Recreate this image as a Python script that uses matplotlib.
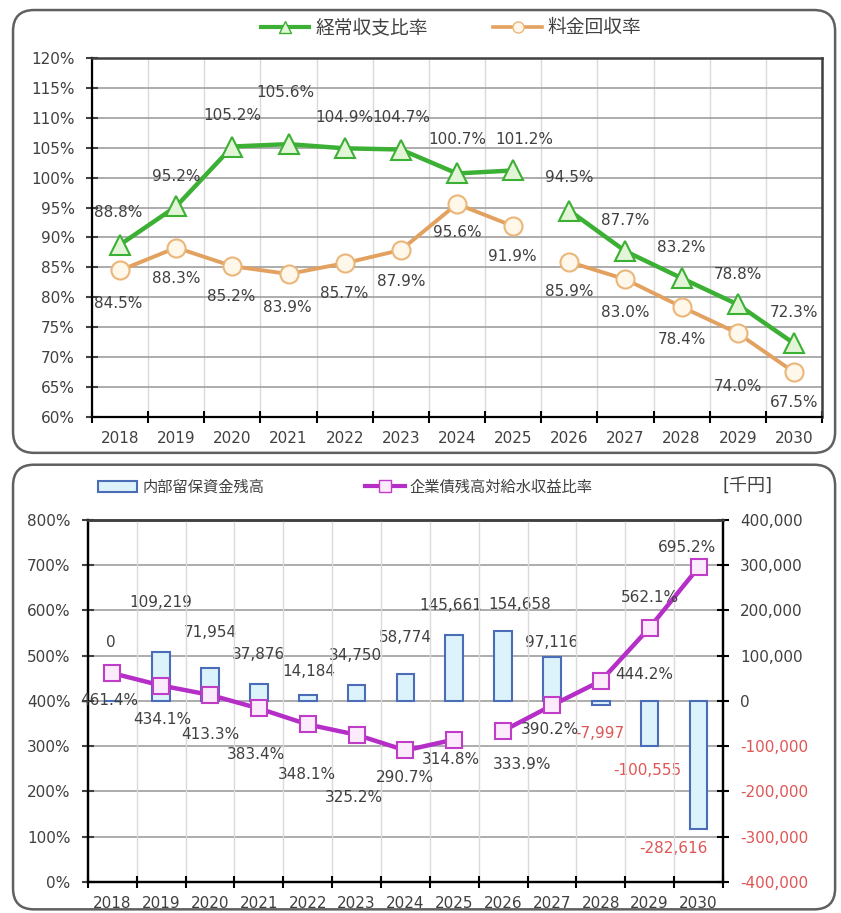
import numpy as np
import matplotlib
matplotlib.use("Agg")
import matplotlib.pyplot as plt
from matplotlib.patches import FancyBboxPatch, Patch
from matplotlib.lines import Line2D

plt.rcParams['font.family'] = ['DejaVu Sans', 'Noto Sans CJK JP']
plt.rcParams['font.size'] = 11

# data
years = ['2018', '2019', '2020', '2021', '2022', '2023', '2024',
         '2025', '2026', '2027', '2028', '2029', '2030']
keijo = [88.8, 95.2, 105.2, 105.6, 104.9, 104.7, 100.7, 101.2, 94.5, 87.7, 83.2, 78.8, 72.3]
ryokin = [84.5, 88.3, 85.2, 83.9, 85.7, 87.9, 95.6, 91.9, 85.9, 83.0, 78.4, 74.0, 67.5]
ryuho = [0, 109219, 71954, 37876, 14184, 34750, 58774, 145661, 154658, 97116,
         -7997, -100555, -282616]
kigyosai = [461.4, 434.1, 413.3, 383.4, 348.1, 325.2, 290.7, 314.8, 333.9, 390.2,
            444.2, 562.1, 695.2]

# label offsets in pixels (dx, dy downward)
keijo_off = [(-2, -32), (0, -30), (0, -31), (-3, -52), (0, -31), (0, -32), (0, -34),
             (11, -31), (0, -33), (0, -31), (0, -31), (0, -30), (0, -31)]
ryokin_off = [(-2, 33), (0, 31), (-1, 30), (-1, 34), (-1, 30), (0, 31), (0, 29),
              (-1, 30), (0, 29), (0, 33), (0, 33), (0, 53), (0, 30)]
kigyosai_off = [(-3, 27), (1, 34), (0, 40), (-3, 46), (-1, 50), (-3, 63), (-1, 27),
                (-3, 20), (19, 34), (-2, 24), (43, -6), (0, -30), (-12, -20)]
ryuho_off = [(-2, -58), (0, -49), (0, -36), (0, -29), (1, -23), (-1, -30), (0, -37),
             (-4, -30), (17, -26), (0, -15), (-1, 29), (-2, 24), (-25, 20)]

txt = '#404040'
red = '#E05555'
green, green_fill = '#3CB034', '#E2F5D6'
orange, orange_edge, orange_fill = '#E3A160', '#EBB679', '#FFF7EA'
purple, purple_edge, purple_fill = '#B52EC7', '#C03DC8', '#FCEBFC'
bar_fill, bar_edge = '#DDF3FC', '#4B6CB7'

fig = plt.figure(figsize=(8.41, 9.13), dpi=100)

# rounded frames
for y0, h in [(0.504, 0.485), (0.004, 0.487)]:
    fig.add_artist(FancyBboxPatch((0.0155, y0), 0.9775, h,
                                  boxstyle="round,pad=0,rounding_size=0.025",
                                  transform=fig.transFigure, fc='none', ec='#606060',
                                  lw=1.8, mutation_aspect=841 / 913))

x = np.arange(len(years))

# ---- top chart
ax1 = fig.add_axes([0.1094, 0.5433, 0.868, 0.3932])
for sl in [slice(0, 8), slice(8, 13)]:
    ax1.plot(x[sl], keijo[sl], color=green, lw=3.2, marker='^', ms=14,
             mfc=green_fill, mec=green, mew=1.5, zorder=4, clip_on=False)
    ax1.plot(x[sl], ryokin[sl], color=orange, lw=2.8, marker='o', ms=13,
             mfc=orange_fill, mec=orange_edge, mew=1.5, zorder=3, clip_on=False)
for i in range(len(years)):
    dx, dy = keijo_off[i]
    ax1.annotate(f"{keijo[i]:.1f}%", (x[i], keijo[i]), xytext=(dx, -dy),
                 textcoords='offset pixels', ha='center', va='center', color=txt, zorder=6)
    dx, dy = ryokin_off[i]
    ax1.annotate(f"{ryokin[i]:.1f}%", (x[i], ryokin[i]), xytext=(dx, -dy),
                 textcoords='offset pixels', ha='center', va='center', color=txt, zorder=6)

ax1.set_xlim(-0.5, 12.5)
ax1.set_ylim(60, 120)
ax1.set_xticks(x)
ax1.set_xticklabels(years)
ax1.set_xticks(np.arange(-0.5, 13, 1), minor=True)
ax1.tick_params(axis='x', which='major', length=0, pad=10, colors=txt)
ax1.tick_params(axis='x', which='minor', length=9, direction='inout', width=1.5)
yt = list(range(60, 121, 5))
ax1.set_yticks(yt)
ax1.set_yticklabels([f"{v}%" for v in yt])
ax1.tick_params(axis='y', length=9, direction='inout', width=1.5, pad=8, colors=txt)
ax1.grid(axis='y', which='major', color='#A6A6A6', lw=1.3)
ax1.grid(axis='x', which='minor', color='#DADADA', lw=1)
ax1.set_axisbelow(True)
for s in ['left', 'bottom']:
    ax1.spines[s].set_color('black')
    ax1.spines[s].set_linewidth(1.6)
for s in ['top', 'right']:
    ax1.spines[s].set_color('#404040')
    ax1.spines[s].set_linewidth(1.8)

h1 = [Line2D([], [], color=green, lw=3, marker='^', ms=8, mfc=green_fill, mec=green),
      Line2D([], [], color=orange, lw=2.6, marker='o', ms=8, mfc=orange_fill, mec=orange_edge)]
fig.legend(h1, ['経常収支比率', '料金回収率'], loc='center',
           bbox_to_anchor=(451 / 841, 1 - 28 / 913), ncol=2, frameon=False,
           handlelength=2.6, columnspacing=3.5, handletextpad=0.3, labelcolor=txt,
           fontsize=13.5)

# ---- bottom chart
ax = fig.add_axes([0.1046, 0.0340, 0.755, 0.3965])
ax2 = ax.twinx()
ax.set_zorder(2)
ax2.set_zorder(1)
ax.patch.set_visible(False)

ax2.bar(x, ryuho, width=0.36, color=bar_fill, edgecolor=bar_edge, lw=1.5, zorder=2)
for i in range(len(years)):
    dx, dy = ryuho_off[i]
    ax2.annotate(f"{ryuho[i]:,}", (x[i], ryuho[i]), xytext=(dx, -dy),
                 textcoords='offset pixels', ha='center', va='center',
                 color=red if ryuho[i] < 0 else txt, zorder=6)

for sl in [slice(0, 8), slice(8, 13)]:
    ax.plot(x[sl], kigyosai[sl], color=purple, lw=3.2, marker='s', ms=12,
            mfc=purple_fill, mec=purple_edge, mew=1.5, zorder=4, clip_on=False)
for i in range(len(years)):
    dx, dy = kigyosai_off[i]
    ax.annotate(f"{kigyosai[i]:.1f}%", (x[i], kigyosai[i]), xytext=(dx, -dy),
                textcoords='offset pixels', ha='center', va='center', color=txt, zorder=6)

ax.set_xlim(-0.5, 12.5)
ax.set_ylim(0, 800)
ax.set_xticks(x)
ax.set_xticklabels(years)
ax.set_xticks(np.arange(-0.5, 13, 1), minor=True)
ax.tick_params(axis='x', which='major', length=0, pad=10, colors=txt)
ax.tick_params(axis='x', which='minor', length=9, direction='inout', width=1.5)
yt2 = list(range(0, 801, 100))
ax.set_yticks(yt2)
ax.set_yticklabels([f"{v}%" for v in yt2])
ax.tick_params(axis='y', length=9, direction='inout', width=1.5, pad=8, colors=txt)
ax.grid(axis='x', which='minor', color='#DADADA', lw=1)

ax2.set_ylim(-400000, 400000)
rt = list(range(-400000, 400001, 100000))
ax2.set_yticks(rt)
ax2.set_yticklabels([f"{v:,}" for v in rt])
for lab, v in zip(ax2.get_yticklabels(), rt):
    lab.set_color(red if v < 0 else txt)
ax2.tick_params(axis='y', length=9, direction='inout', width=1.5, pad=8)
ax2.grid(axis='y', color='#A6A6A6', lw=1.3)
ax2.set_axisbelow(True)

for a in [ax, ax2]:
    for s in ['left', 'bottom', 'right']:
        a.spines[s].set_color('black')
        a.spines[s].set_linewidth(1.6)
    a.spines['top'].set_color('#404040')
    a.spines['top'].set_linewidth(1.8)

h2 = [Patch(fc=bar_fill, ec=bar_edge, lw=1.5),
      Line2D([], [], color=purple, lw=3, marker='s', ms=8, mfc=purple_fill, mec=purple_edge)]
fig.legend(h2, ['内部留保資金残高', '企業債残高対給水収益比率'], loc='center',
           bbox_to_anchor=(345 / 841, 1 - 487 / 913), ncol=2, frameon=False,
           handlelength=2.6, columnspacing=6.6, handletextpad=0.3, labelcolor=txt,
           fontsize=11)
fig.text(748 / 841, 1 - 487 / 913, '[千円]', ha='center', va='center', color=txt,
         fontsize=13)

fig.savefig('out.png', dpi=100)
